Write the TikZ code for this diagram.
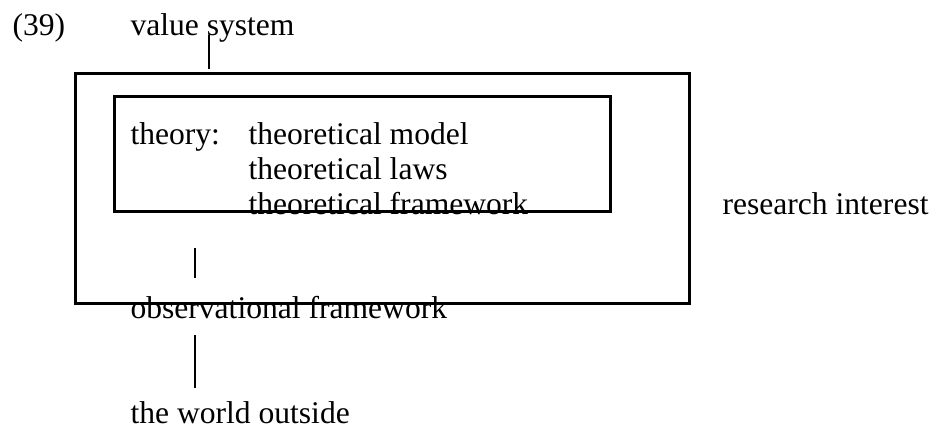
\documentclass[tikz,border=0pt]{standalone}
\usepackage{fontspec}
\setmainfont{Liberation Serif}
\usetikzlibrary{positioning}

\tikzset{
  txt/.style={anchor=base west,inner sep=0pt,font=\fontsize{12}{13}\selectfont},
  frame/.style={draw,line width=1.1pt,inner sep=0pt,anchor=north west},
  link/.style={line width=0.8pt}
}

\begin{document}
\begin{tikzpicture}[x=0.38pt,y=-0.38pt]
\useasboundingbox (0,0) rectangle (937,425);
% frames
\node[frame,minimum width=233.3pt,minimum height=87.4pt] (outer) at (74,72) {};
\node[frame,minimum width=188.5pt,minimum height=43.7pt] (inner) at (113,95) {};
% labels
\node[txt] (num) at (12,35) {(39)};
\node[txt] (value) at (130,35) {value system};
\node[txt] (theory) at (130,144) {theory:};
\node[txt] (model) at (248,144) {theoretical model};
\node[txt] (laws) at (248,179) {theoretical laws};
\node[txt] (tframe) at (248,214) {theoretical framework};
\node[txt] (interest) at (722,214) {research interest};
\node[txt] (oframe) at (130,318) {observational framework};
\node[txt] (world) at (130,423) {the world outside};
% free ends
\coordinate (v1) at (209,35);
\coordinate (v2) at (209,69);
\coordinate (o1) at (195,248);
\coordinate (o2) at (195,278);
\coordinate (w1) at (195,335);
\coordinate (w2) at (195,388);
\draw[link] (v1) -- (v2);
\draw[link] (o1) -- (o2);
\draw[link] (w1) -- (w2);
\end{tikzpicture}
\end{document}
